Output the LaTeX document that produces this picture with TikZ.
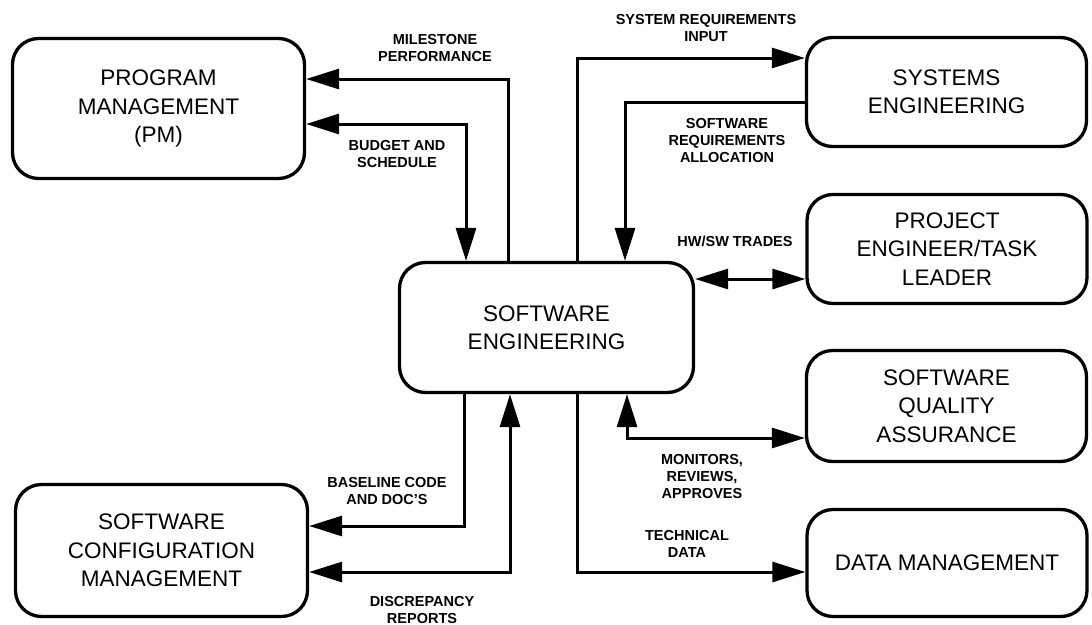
\documentclass[tikz,border=0pt]{standalone}
\usepackage{fontspec}
\setmainfont{Liberation Sans}
\usetikzlibrary{arrows.meta}
\begin{document}
\begin{tikzpicture}[x=1pt,y=-1pt,
  box/.style={draw, line width=3.3pt, rounded corners=26pt, align=center,
    inner sep=0pt, font=\fontsize{22.5}{28.5}\selectfont},
  tip/.tip={Triangle[length=33pt,width=20pt]},
  conn/.style={line width=3pt, -tip},
  conn2/.style={line width=3pt, tip-tip},
  lbl/.style={align=center, inner sep=0pt, font=\fontsize{14.5}{17}\selectfont\bfseries}]
\useasboundingbox (0,0) rectangle (1092,624);

% boxes
\node[box, minimum width=292pt, minimum height=140pt] (pm) at (158.5,108.5)
  {PROGRAM\\MANAGEMENT\\(PM)};
\node[box, minimum width=294pt, minimum height=130pt] (swe) at (546.5,327.5)
  {SOFTWARE\\ENGINEERING};
\node[box, minimum width=292pt, minimum height=132pt] (scm) at (161.5,550.5)
  {SOFTWARE\\CONFIGURATION\\MANAGEMENT};
\node[box, minimum width=280pt, minimum height=109pt] (syse) at (946.5,92)
  {SYSTEMS\\ENGINEERING};
\node[box, minimum width=280pt, minimum height=109pt] (pe) at (947,249)
  {PROJECT\\ENGINEER/TASK\\LEADER};
\node[box, minimum width=280pt, minimum height=111pt] (sqa) at (946.5,406)
  {SOFTWARE\\QUALITY\\ASSURANCE};
\node[box, minimum width=280pt, minimum height=107pt] (dm) at (947,563)
  {DATA MANAGEMENT};

% routing coordinates of the connectors
\coordinate (xmil) at (508,0);
\coordinate (ymil) at (0,79);
\coordinate (xbud) at (466,0);
\coordinate (ybud) at (0,124);
\coordinate (xsri) at (577,0);
\coordinate (ysri) at (0,58);
\coordinate (xsra) at (625,0);
\coordinate (ysra) at (0,102);
\coordinate (yhw) at (0,279);
\coordinate (xmon) at (627,0);
\coordinate (ymon) at (0,438);
\coordinate (xtec) at (577,0);
\coordinate (ytec) at (0,572);
\coordinate (xbas) at (464,0);
\coordinate (ybas) at (0,526);
\coordinate (xdis) at (510,0);
\coordinate (ydis) at (0,572);

% connectors
\draw[conn] (swe.north -| xmil) |- (pm.east |- ymil);
\draw[conn2] (pm.east |- ybud) -| (swe.north -| xbud);
\draw[conn] (swe.north -| xsri) |- (syse.west |- ysri);
\draw[conn] (syse.west |- ysra) -| (swe.north -| xsra);
\draw[conn2] (swe.east |- yhw) -- (pe.west |- yhw);
\draw[conn2] (swe.south -| xmon) |- (sqa.west |- ymon);
\draw[conn] (swe.south -| xtec) |- (dm.west |- ytec);
\draw[conn] (swe.south -| xbas) |- (scm.east |- ybas);
\draw[conn2] (scm.east |- ydis) -| (swe.south -| xdis);

% connector labels
\node[lbl] (lmil) at (435,48.5) {MILESTONE\\PERFORMANCE};
\node[lbl] (lbud) at (397,154.5) {BUDGET AND\\SCHEDULE};
\node[lbl] (lsri) at (706,28) {SYSTEM REQUIREMENTS\\INPUT};
\node[lbl] (lsra) at (727,141) {SOFTWARE\\REQUIREMENTS\\ALLOCATION};
\node[lbl] (lhw) at (735,241) {HW/SW TRADES};
\node[lbl] (lmon) at (702,477) {MONITORS,\\REVIEWS,\\APPROVES};
\node[lbl] (ltec) at (687,544) {TECHNICAL\\DATA};
\node[lbl] (lbas) at (387,491.5) {BASELINE CODE\\AND DOC'S};
\node[lbl] (ldis) at (422,609.5) {DISCREPANCY\\REPORTS};
\end{tikzpicture}
\end{document}
